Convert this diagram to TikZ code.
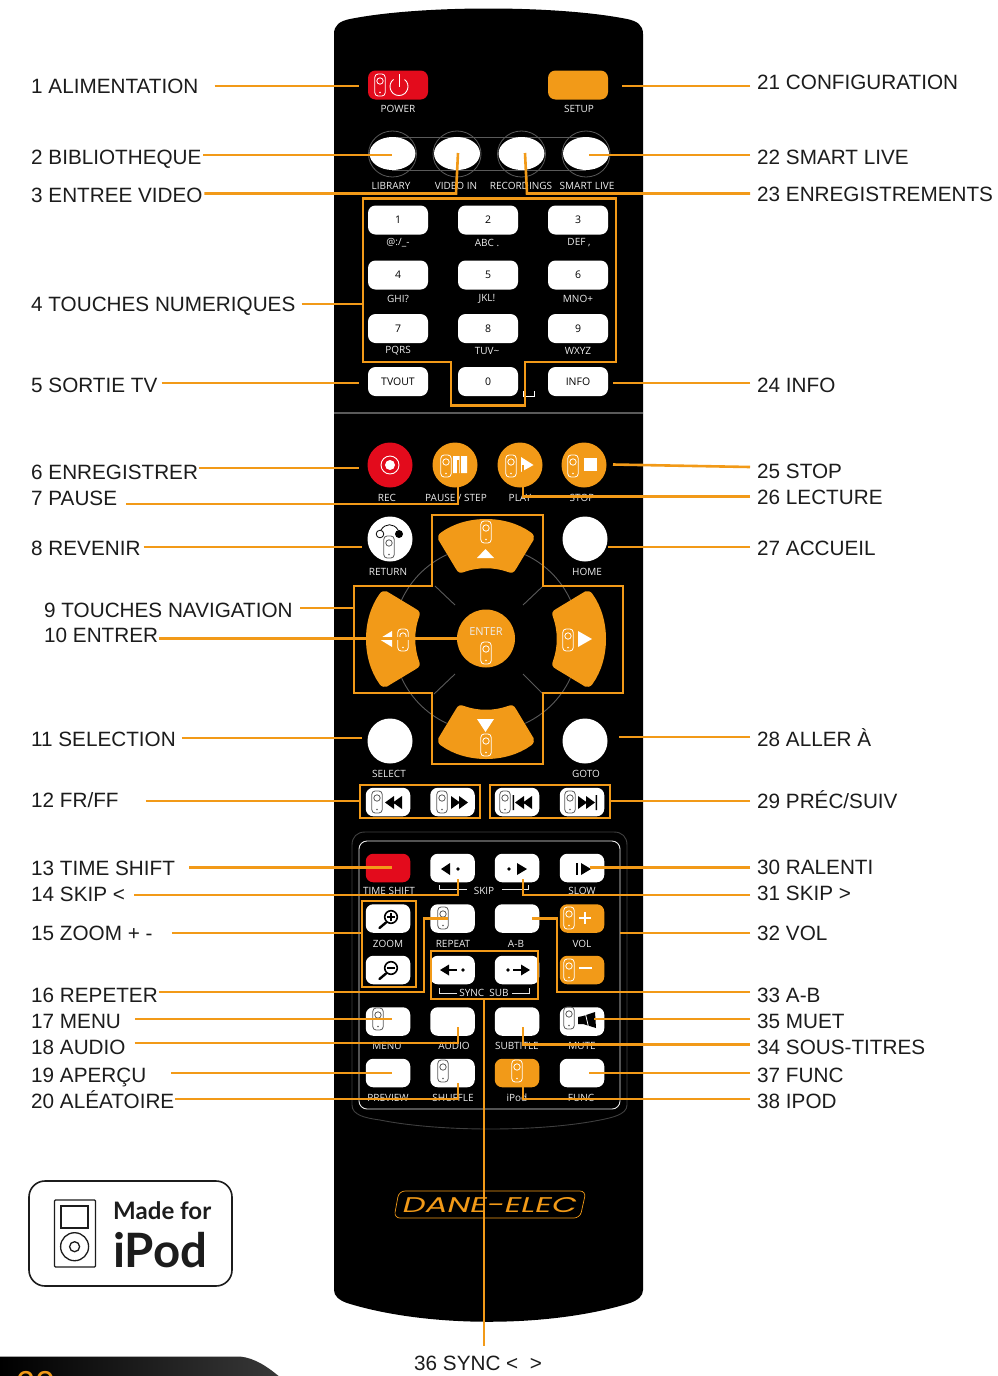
\documentclass[tikz,border=0pt]{standalone}
\usepackage{fontspec}
\usepackage{graphicx}
\usetikzlibrary{shapes.geometric}
\setmainfont{Liberation Sans}
\newfontfamily\keyfont{Open Sans}
\newfontfamily\brandfont{Poppins}
\newfontfamily\badgefont{Lato}
\definecolor{amber}{HTML}{F29A18}
\definecolor{alarm}{HTML}{E30B1C}
\definecolor{ink}{HTML}{1C1C1C}
\definecolor{ringgrey}{HTML}{5A5A5A}
\definecolor{icongrey}{HTML}{5C5C5C}

\tikzset{
  x=1pt,y=-1pt,
  lead/.style={draw=amber,line width=2.6pt,line join=miter},
  zone/.style={draw=amber,line width=2.6pt,line join=miter},
  calltext/.style={font=\fontsize{20.7}{21}\selectfont,text=ink,inner sep=0pt},
  keylabel/.style={font=\keyfont\fontsize{10}{10}\selectfont,text=white!93!black,inner sep=0pt},
  keybtn/.style={fill=white,rounded corners=7.5pt,minimum width=60pt,minimum height=29pt,
     inner sep=0pt,text=black,font=\keyfont\fontsize{10.5}{10.5}\selectfont},
  smallbtn/.style={keybtn,minimum width=44.5pt,minimum height=28.5pt},
  roundkey/.style={circle,fill=amber,minimum size=45pt,inner sep=0pt},
  ovalkey/.style={ellipse,fill=white,minimum width=46pt,minimum height=33pt,inner sep=0pt},
  ring/.style={draw=ringgrey,line width=0.9pt},
  pad/.style={fill=amber},
}

% Small remote-control glyph printed on many keys
\newcommand\handset[3]{%
  \draw[#3,line width=0.8pt,rounded corners=3.3pt] (#1-5.2,#2-11) rectangle (#1+5.2,#2+11);
  \draw[#3,line width=0.8pt] (#1,#2-4) circle[radius=3.2];
  \fill[#3] (#1,#2+7.5) circle[radius=0.8];
}
% Captions printed under the keys
\newcount\tagno
\newcommand\keytag[3]{\global\advance\tagno by 1
  \node[keylabel] (tag\the\tagno) at (#1,#2) {#3};}
% Callout texts
\newcommand\calltag[4]{\node[calltext,anchor=base west] (#1) at (#2,#3+7.5) {#4};}
% Direction pad wedge, drawn pointing up from the pad centre
\newcommand\navwedge[1]{%
  \fill[pad,shift={(486,639)},rotate=#1]
    (-45,-106.5) .. controls (-20,-124.5) and (20,-124.5) .. (45,-106.5)
    .. controls (48,-104.5) and (48.5,-101) .. (47.5,-99) -- (30,-70)
    .. controls (28,-66) and (25,-65.5) .. (22,-67)
    .. controls (8,-72) and (-8,-72) .. (-22,-67)
    .. controls (-25,-65.5) and (-28,-66) .. (-30,-70)
    -- (-47.5,-99) .. controls (-48.5,-101) and (-48,-104.5) .. (-45,-106.5) -- cycle;}

\begin{document}
\begin{tikzpicture}
\useasboundingbox (0,0) rectangle (998,1376);
\fill[white] (0,0) rectangle (998,1376);

% ---- handset body ----
\fill[black] (334,34) .. controls (334,25) and (340,21) .. (350,19)
  .. controls (420,5) and (557,5) .. (627,19)
  .. controls (637,21) and (643,25) .. (643,34) -- (643,1290)
  .. controls (643,1296) and (638,1300) .. (630,1303)
  .. controls (550,1328) and (427,1328) .. (347,1303)
  .. controls (339,1300) and (334,1296) .. (334,1290) -- cycle;
\draw[draw=ringgrey,line width=1.2pt] (334,413) -- (643,413);

% ---- power and setup ----
\node[keybtn,fill=alarm] (power) at (398,85) {};
\node[keybtn,fill=amber] (setup) at (578,85) {};
\handset{380}{85}{white}
\draw[white,line width=0.9pt] (393.5,79.5) .. controls (387,84) and (390,95.5) .. (399,95.5)
   .. controls (408,95.5) and (411,84) .. (404.5,79.5);
\draw[white,line width=0.9pt] (399,74) -- (399,87);
\keytag{398}{109}{POWER}
\keytag{579}{109}{SETUP}

% ---- oval keys ----
\foreach \cx in {392.5,457,521.5,586}{
  \draw[ring,line width=0.8pt] (\cx,154) ellipse[x radius=24,y radius=23];}
\draw[ring,line width=0.8pt] (392,137) -- (586,137) (392,170) -- (586,170);
\node[ovalkey] (library) at (392.5,153.5) {};
\node[ovalkey] (videoin) at (457,153.5) {};
\node[ovalkey] (recordings) at (521.5,153.5) {};
\node[ovalkey] (smartlive) at (586,153.5) {};
\keytag{391}{186}{LIBRARY}
\keytag{456}{186}{VIDEO IN}
\keytag{521}{186}{RECORDINGS}
\keytag{587}{186}{SMART LIVE}

% ---- number keys ----
\node[keybtn] (k1) at (398,220) {1};
\node[keybtn] (k2) at (488,220) {2};
\node[keybtn] (k3) at (578,220) {3};
\node[keybtn] (k4) at (398,275) {4};
\node[keybtn] (k5) at (488,275) {5};
\node[keybtn] (k6) at (578,275) {6};
\node[keybtn] (k7) at (398,328.5) {7};
\node[keybtn] (k8) at (488,328.5) {8};
\node[keybtn] (k9) at (578,328.5) {9};
\node[keybtn] (tvout) at (398,381.5) {TVOUT};
\node[keybtn] (k0) at (488,381.5) {0};
\node[keybtn] (info) at (578,381.5) {INFO};
\keytag{398}{243}{@:/\_-}
\keytag{487}{243}{ABC .}
\keytag{579}{243}{DEF ,}
\keytag{398}{299}{GHI?}
\keytag{487}{299}{JKL!}
\keytag{578}{299}{MNO+}
\keytag{398}{351}{PQRS}
\keytag{487}{351}{TUV\textasciitilde}
\keytag{578}{351}{WXYZ}
\draw[white,line width=0.9pt] (523,391) -- (523,396) -- (534,396) -- (534,391);

% ---- transport keys ----
\node[roundkey,fill=alarm] (rec) at (390,465) {};
\node[roundkey] (pausekey) at (455,465) {};
\node[roundkey] (playkey) at (520,465) {};
\node[roundkey] (stopkey) at (584,465) {};
\draw[white,line width=0.9pt] (390,465) circle[radius=9];
\fill[white] (390,465) circle[radius=5];
\handset{446}{466}{white}
\fill[white] (453,456) rectangle (459.5,473) (461,456) rectangle (467,473);
\handset{511}{466}{white}
\fill[white] (521,457) -- (533.5,465) -- (521,472) -- cycle;
\handset{573}{466}{white}
\fill[white] (584,458) rectangle (597,471);
\keytag{387}{498}{REC}
\keytag{456}{498}{PAUSE / STEP}
\keytag{520}{498}{PLAY}
\keytag{582}{498}{STOP}

% ---- direction pad ----
\foreach \ang/\bng in {204/245,295/336,25/65,115/155}{
  \draw[ring] plot[domain=\ang:\bng,samples=16] ({486+93*cos(\x)},{639+93*sin(\x)});}
\draw[ring] (435,586) -- (455,605) (542,587) -- (523,605) (455,674) -- (434,694) (523,674) -- (543,694);
\navwedge{0}\navwedge{90}\navwedge{180}\navwedge{270}
\node[circle,fill=amber,minimum size=58pt,inner sep=0pt] (enter) at (486,638.5) {};
\node[keylabel,font=\keyfont\fontsize{11}{11}\selectfont] (entertext) at (486,632) {ENTER};
\handset{486}{653}{white}
\handset{486}{532}{white}
\fill[white] (485.5,549) -- (494,558) -- (477,558) -- cycle;
\handset{486}{745}{white}
\fill[white] (477,719) -- (494,719) -- (485.5,732) -- cycle;
\handset{403}{640}{white}
\fill[white] (379,639) -- (392,631) -- (392,647) -- cycle;
\handset{568}{640}{white}
\fill[white] (578,631) -- (592,639) -- (578,647) -- cycle;

% ---- round white keys ----
\node[roundkey,fill=white] (returnkey) at (390,539) {};
\node[roundkey,fill=white] (homekey) at (585,539) {};
\node[roundkey,fill=white] (selectkey) at (390,741) {};
\node[roundkey,fill=white] (gotokey) at (585,741) {};
\handset{389}{547}{icongrey}
\draw[black,line width=0.8pt,fill=white] (380,534) circle[radius=3.8];
\fill[black] (399,534) circle[radius=4];
\draw[black,line width=0.8pt] (381,530) .. controls (385,523) and (394,523) .. (398,530);
\keytag{388}{572}{RETURN}
\keytag{587}{572}{HOME}
\keytag{389}{774}{SELECT}
\keytag{586}{774}{GOTO}

% ---- search and chapter keys ----
\node[smallbtn] (fr) at (388,802) {};
\node[smallbtn] (ff) at (452.5,802) {};
\node[smallbtn] (prevkey) at (517,802) {};
\node[smallbtn] (nextkey) at (582,802) {};
\handset{377}{802}{icongrey}
\handset{442}{802}{icongrey}
\handset{505}{802}{icongrey}
\handset{570}{802}{icongrey}
\fill[black] (385,802.5) -- (394,796) -- (394,809) -- cycle (393,802.5) -- (402,796) -- (402,809) -- cycle;
\fill[black] (460,802.5) -- (451,796) -- (451,809) -- cycle (468,802.5) -- (459,796) -- (459,809) -- cycle;
\fill[black] (512.5,795) rectangle (514,810) (515,802.5) -- (524,796) -- (524,809) -- cycle (523,802.5) -- (532,796) -- (532,809) -- cycle;
\fill[black] (587,802.5) -- (578,796) -- (578,809) -- cycle (595,802.5) -- (586,796) -- (586,809) -- cycle (595.5,795) rectangle (597,810);

% ---- lower key panel ----
\draw[draw=ringgrey!70!black,line width=0.9pt]
  (352,845) .. controls (352,837) and (357,832) .. (365,832) -- (614,832)
  .. controls (622,832) and (627,837) .. (627,845) -- (627,1105)
  .. controls (627,1115) and (610,1118) .. (600,1120)
  .. controls (540,1132) and (440,1132) .. (380,1120)
  .. controls (365,1118) and (352,1115) .. (352,1105) -- cycle;
\draw[white!92!black,line width=0.9pt,rounded corners=8pt] (359,841) rectangle (620,1109);

\node[smallbtn,fill=alarm] (timeshift) at (388,868) {};
\node[smallbtn] (skipb) at (452.5,868) {};
\node[smallbtn] (skipf) at (517,868) {};
\node[smallbtn] (slow) at (582,868) {};
\node[smallbtn] (zoomin) at (388,918.5) {};
\node[smallbtn] (repeatkey) at (452.5,918.5) {};
\node[smallbtn] (abkey) at (517,918.5) {};
\node[smallbtn,fill=amber] (volup) at (582,918.5) {};
\node[smallbtn] (zoomout) at (388,970) {};
\node[smallbtn] (syncb) at (452.5,970) {};
\node[smallbtn] (syncf) at (517,970) {};
\node[smallbtn,fill=amber] (voldown) at (582,970) {};
\node[smallbtn] (menukey) at (388,1021.5) {};
\node[smallbtn] (audiokey) at (452.5,1021.5) {};
\node[smallbtn] (subtitle) at (517,1021.5) {};
\node[smallbtn] (mute) at (582,1021.5) {};
\node[smallbtn] (preview) at (388,1073) {};
\node[smallbtn] (shuffle) at (452.5,1073) {};
\node[smallbtn,fill=amber] (ipodkey) at (517,1073) {};
\node[smallbtn] (func) at (582,1073) {};

% key glyphs
\fill[black] (441,869) -- (450,863) -- (450,875) -- cycle;
\fill[black] (458,869) circle[radius=1.8];
\fill[black] (509,869) circle[radius=1.8];
\fill[black] (527,869) -- (517,863) -- (517,875) -- cycle;
\fill[black] (576.3,863) rectangle (578,875);
\fill[black] (591,869) -- (581,863) -- (581,875) -- cycle;
\draw[black,line width=1.6pt] (391,917) circle[radius=6.3];
\draw[black,line width=2.4pt,line cap=round] (386,922.5) -- (379.5,928);
\draw[black,line width=1.5pt] (387,917) -- (395,917) (391,913) -- (391,921);
\draw[black,line width=1.6pt] (391,968) circle[radius=6.3];
\draw[black,line width=2.4pt,line cap=round] (386,973.5) -- (379.5,979);
\draw[black,line width=1.5pt] (387,968) -- (395,968);
\handset{443}{918}{icongrey}
\handset{569}{918}{white}
\draw[white,line width=1.4pt] (579,918) -- (591,918) (585,912) -- (585,924);
\handset{569}{970}{white}
\draw[white,line width=1.6pt] (579,968) -- (592,968);
\fill[black] (440,970) -- (449,964.5) -- (449,975.5) -- cycle;
\draw[black,line width=2pt] (447,970) -- (457,970);
\fill[black] (463,970) circle[radius=1.8];
\fill[black] (508,970) circle[radius=1.8];
\draw[black,line width=2pt] (513,970) -- (523,970);
\fill[black] (530,970) -- (521,964.5) -- (521,975.5) -- cycle;
\handset{378}{1019}{icongrey}
\handset{569}{1018}{icongrey}
\fill[black] (578,1017) -- (583,1016) -- (595,1012) -- (596,1028) -- (583,1024) -- (578,1024) -- cycle;
\draw[white,line width=0.8pt] (585,1012) -- (589,1029);
\handset{443}{1071}{icongrey}
\handset{517}{1071}{white}

\keytag{389}{891}{TIME SHIFT}
\keytag{484}{891}{SKIP}
\keytag{582}{891}{SLOW}
\keytag{388}{944}{ZOOM}
\keytag{453}{944}{REPEAT}
\keytag{516}{944}{A-B}
\keytag{582}{944}{VOL}
\keytag{484}{993}{SYNC\ \ SUB}
\keytag{387}{1046}{MENU}
\keytag{454}{1046}{AUDIO}
\keytag{517}{1046}{SUBTITLE}
\keytag{582}{1046}{MUTE}
\keytag{388}{1098}{PREVIEW}
\keytag{453}{1098}{SHUFFLE}
\keytag{517}{1098}{iPod}
\keytag{581}{1098}{FUNC}
\draw[white!90!black,line width=0.8pt] (439,885) -- (439,889.5) -- (467,889.5)
  (502,889.5) -- (528,889.5) -- (528,885)
  (439,988) -- (439,993) -- (457,993) (512,993) -- (529,993) -- (529,988);

% ---- brand mark ----
\draw[amber,line width=0.7pt,rounded corners=6pt] (399,1191) -- (586,1191) -- (580,1218) -- (394,1218) -- cycle;
\node[inner sep=0pt,text=amber] (brand) at (490,1205.5)
  {\resizebox{174pt}{15pt}{\brandfont\itshape DANE-ELEC}};

% ---- grouping outlines ----
\draw[zone] (363,198.5) -- (616,198.5) -- (616,362) -- (525,362) -- (525,405.5) -- (451,405.5) -- (451,362) -- (363,362) -- cycle;
\draw[zone] (432,515) -- (543,515) -- (543,586) -- (623,586) -- (623,693) -- (543,693) -- (543,764) -- (432,764) -- (432,693) -- (354,693) -- (354,586) -- (432,586) -- cycle;
\draw[zone] (360,785) rectangle (480,818);
\draw[zone] (490,785) rectangle (610,818);
\draw[zone] (362,901) rectangle (416,987);
\draw[zone] (431,951) rectangle (538,999);

% ---- callout texts ----
\calltag{a1}{31}{86}{1 ALIMENTATION}
\calltag{a2}{31}{157}{2 BIBLIOTHEQUE}
\calltag{a3}{31}{195}{3 ENTREE VIDEO}
\calltag{a4}{31}{304}{4 TOUCHES NUMERIQUES}
\calltag{a5}{31}{385}{5 SORTIE TV}
\calltag{a6}{31}{472}{6 ENREGISTRER}
\calltag{a7}{31}{498}{7 PAUSE}
\calltag{a8}{31}{548}{8 REVENIR}
\calltag{a9}{44}{610}{9 TOUCHES NAVIGATION}
\calltag{a10}{44}{635}{10 ENTRER}
\calltag{a11}{31}{739}{11 SELECTION}
\calltag{a12}{31}{800}{12 FR/FF}
\calltag{a13}{31}{868}{13 TIME SHIFT}
\calltag{a14}{31}{894}{14 SKIP <}
\calltag{a15}{31}{933}{15 ZOOM + -}
\calltag{a16}{31}{995}{16 REPETER}
\calltag{a17}{31}{1021}{17 MENU}
\calltag{a18}{31}{1047}{18 AUDIO}
\calltag{a19}{31}{1075}{19 APERÇU}
\calltag{a20}{31}{1101}{20 ALÉATOIRE}
\calltag{a21}{757}{82}{21 CONFIGURATION}
\calltag{a22}{757}{157}{22 SMART LIVE}
\calltag{a23}{757}{194}{23 ENREGISTREMENTS}
\calltag{a24}{757}{385}{24 INFO}
\calltag{a25}{757}{471}{25 STOP}
\calltag{a26}{757}{497}{26 LECTURE}
\calltag{a27}{757}{548}{27 ACCUEIL}
\calltag{a28}{757}{739}{28 ALLER À}
\calltag{a29}{757}{801}{29 PRÉC/SUIV}
\calltag{a30}{757}{867}{30 RALENTI}
\calltag{a31}{757}{893}{31 SKIP >}
\calltag{a32}{757}{933}{32 VOL}
\calltag{a33}{757}{995}{33 A-B}
\calltag{a35}{757}{1021}{35 MUET}
\calltag{a34}{757}{1047}{34 SOUS-TITRES}
\calltag{a37}{757}{1075}{37 FUNC}
\calltag{a38}{757}{1101}{38 IPOD}
\calltag{a36}{414}{1363}{36 SYNC < \ >}

% ---- callout leaders, ending on or inside their keys ----
\coordinate (e1) at (359,86);
\coordinate (e2) at (392,155);
\coordinate (e3a) at (456,193.5);
\coordinate (e3) at (458,153);
\coordinate (e4) at (363,304);
\coordinate (e5) at (359,383);
\coordinate (e6) at (359,468);
\coordinate (e7a) at (458,504);
\coordinate (e7) at (458,460);
\coordinate (e8) at (362,547);
\coordinate (e9) at (354,608);
\coordinate (e10) at (458,638.5);
\coordinate (e11) at (362,738);
\coordinate (e12) at (360,801);
\coordinate (e13) at (392,867.5);
\coordinate (e14a) at (458,895);
\coordinate (e14) at (458,879);
\coordinate (e15) at (362,933);
\coordinate (e16a) at (424,992);
\coordinate (e16b) at (424,918.5);
\coordinate (e16) at (448,918.5);
\coordinate (e17) at (392,1019);
\coordinate (e18a) at (458,1043);
\coordinate (e18) at (458,1027);
\coordinate (e19) at (392,1073);
\coordinate (e20a) at (458,1099);
\coordinate (e20) at (458,1083);
\coordinate (e21) at (622,86);
\coordinate (e22) at (589,155);
\coordinate (e23a) at (527,193.5);
\coordinate (e23) at (525,153);
\coordinate (e24) at (613,383);
\coordinate (e25) at (613,464.5);
\coordinate (e25s) at (750,467);
\coordinate (e26a) at (523,496.5);
\coordinate (e26) at (523,465);
\coordinate (e27) at (608,547);
\coordinate (e28) at (619,737);
\coordinate (e29) at (610,801);
\coordinate (e30) at (590,867.5);
\coordinate (e31a) at (523,895);
\coordinate (e31) at (523,879);
\coordinate (e32) at (620,933);
\coordinate (e33a) at (557,992);
\coordinate (e33b) at (557,918.5);
\coordinate (e33) at (532,918.5);
\coordinate (e34a) at (523,1044.5);
\coordinate (e34) at (523,1027);
\coordinate (e35) at (594,1019);
\coordinate (e36a) at (484,999);
\coordinate (e36) at (484,1346);
\coordinate (e37) at (589,1073);
\coordinate (e38a) at (523,1099);
\coordinate (e38) at (523,1087);

\draw[lead,shorten <=16pt] (a1.east |- e1) -- (e1);
\draw[lead,shorten <=1.5pt] (a2.east |- e2) -- (e2);
\draw[lead,shorten <=1.5pt] (a3.east |- e3a) -- (e3a) -- (e3);
\draw[lead,shorten <=6pt] (a4.east |- e4) -- (e4);
\draw[lead,shorten <=4pt] (a5.east |- e5) -- (e5);
\draw[lead,shorten <=0.5pt] (a6.east |- e6) -- (e6);
\draw[lead,shorten <=9pt] (a7.east |- e7a) -- (e7a) -- (e7);
\draw[lead,shorten <=3pt] (a8.east |- e8) -- (e8);
\draw[lead,shorten <=7.5pt] (a9.east |- e9) -- (e9);
\draw[lead,shorten <=0.5pt] (a10.east |- e10) -- (e10);
\draw[lead,shorten <=6pt] (a11.east |- e11) -- (e11);
\draw[lead,shorten <=27pt] (a12.east |- e12) -- (e12);
\draw[lead,shorten <=14pt] (a13.east |- e13) -- (e13);
\draw[lead,shorten <=9pt] (a14.east |- e14a) -- (e14a) -- (e14);
\draw[lead,shorten <=19pt] (a15.east |- e15) -- (e15);
\draw[lead,shorten <=1pt] (a16.east |- e16a) -- (e16a) -- (e16b) -- (e16);
\draw[lead,shorten <=14pt] (a17.east |- e17) -- (e17);
\draw[lead,shorten <=9pt] (a18.east |- e18a) -- (e18a) -- (e18);
\draw[lead,shorten <=25pt] (a19.east |- e19) -- (e19);
\draw[lead,shorten <=1pt] (a20.east |- e20a) -- (e20a) -- (e20);
\draw[lead,shorten <=7pt] (a21.west |- e21) -- (e21);
\draw[lead,shorten <=7pt] (a22.west |- e22) -- (e22);
\draw[lead,shorten <=7pt] (a23.west |- e23a) -- (e23a) -- (e23);
\draw[lead,shorten <=7pt] (a24.west |- e24) -- (e24);
\draw[lead] (e25s) -- (e25);
\draw[lead,shorten <=7pt] (a26.west |- e26a) -- (e26a) -- (e26);
\draw[lead,shorten <=7pt] (a27.west |- e27) -- (e27);
\draw[lead,shorten <=7pt] (a28.west |- e28) -- (e28);
\draw[lead,shorten <=7pt] (a29.west |- e29) -- (e29);
\draw[lead,shorten <=7pt] (a30.west |- e30) -- (e30);
\draw[lead,shorten <=7pt] (a31.west |- e31a) -- (e31a) -- (e31);
\draw[lead,shorten <=7pt] (a32.west |- e32) -- (e32);
\draw[lead,shorten <=7pt] (a33.west |- e33a) -- (e33a) -- (e33b) -- (e33);
\draw[lead,shorten <=7pt] (a34.west |- e34a) -- (e34a) -- (e34);
\draw[lead,shorten <=7pt] (a35.west |- e35) -- (e35);
\draw[lead] (e36a) -- (e36);
\draw[lead,shorten <=7pt] (a37.west |- e37) -- (e37);
\draw[lead,shorten <=7pt] (a38.west |- e38a) -- (e38a) -- (e38);

% ---- Made for iPod badge ----
\draw[ink,line width=1.6pt,rounded corners=16pt] (29,1181) rectangle (232,1286);
\draw[ink,line width=1.3pt,rounded corners=1pt] (54.5,1200) rectangle (95.5,1267);
\draw[ink,line width=1.1pt] (61,1206) rectangle (88,1228);
\draw[ink,line width=1.3pt] (74.6,1246.7) circle[radius=14];
\draw[ink,line width=1.3pt] (74.6,1246.7) circle[radius=5];
\node[inner sep=0pt,anchor=base west,text=ink] (madefor) at (113,1219.5)
   {\resizebox{98pt}{!}{\badgefont\bfseries\fontsize{25}{25}\selectfont Made for}};
\node[inner sep=0pt,anchor=base west,text=ink] (ipodmark) at (113,1267)
   {\resizebox{94pt}{!}{\badgefont\bfseries\fontsize{52}{52}\selectfont iPod}};

% ---- page tab ----
\shade[left color=black,right color=black!78!white]
  (0,1356.5) -- (240,1356.5) .. controls (255,1358) and (268,1367) .. (281,1378) -- (0,1378) -- cycle;
\node[inner sep=0pt,anchor=base west,text=amber] (pagenum) at (15,1396)
   {\fontsize{36}{36}\selectfont 60};
\end{tikzpicture}
\end{document}
